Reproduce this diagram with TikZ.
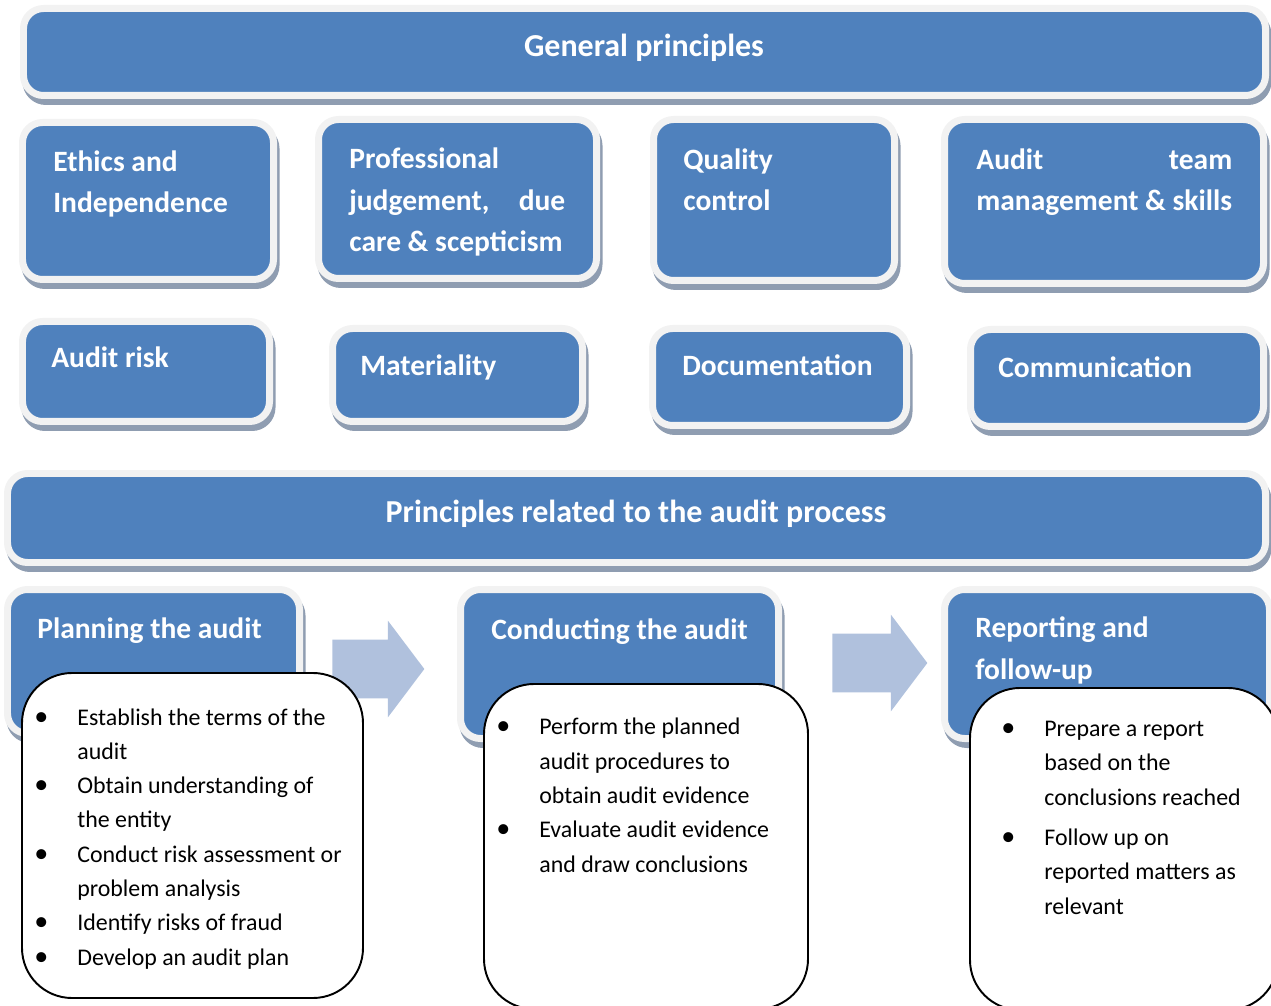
\documentclass[tikz,border=0pt]{standalone}
\usepackage{fontspec}
\setmainfont{Carlito}
\usetikzlibrary{fit,shapes.arrows}

\definecolor{boxblue}{HTML}{4F81BD}
\definecolor{rimgray}{HTML}{F2F2F2}
\definecolor{shadowgray}{HTML}{8F9DB1}
\definecolor{arrowblue}{HTML}{B0C1DD}

\newcommand{\bul}{\llap{{\fontsize{16}{19.5}\selectfont\textbullet}\hspace{0.58cm}}}

\tikzset{
  bluebox/.style={fill=boxblue, draw=rimgray, line width=0.14cm, rounded corners=0.4cm, inner sep=0.07cm,
    preaction={draw=shadowgray, fill=shadowgray, transform canvas={shift={(0.05cm,-0.12cm)}}}},
  headtxt/.style={text=white, font=\fontsize{16.8}{23.8}\selectfont\bfseries, align=left, inner sep=0pt},
  titletxt/.style={headtxt, font=\fontsize{18.2}{23.8}\selectfont\bfseries},
  listbox/.style={draw=black, line width=1.1pt, fill=white, rounded corners=1cm, inner sep=0pt},
  listtxt/.style={text=black, font=\fontsize{13.6}{19.5}\selectfont, align=left, inner sep=0pt},
  flowarrow/.style={single arrow, fill=arrowblue, draw=none, inner xsep=0pt, inner ysep=0.58cm,
    single arrow head extend=0.38cm, single arrow tip angle=106, anchor=tail}
}

\begin{document}
\begin{tikzpicture}[x=0.02cm, y=-0.02cm]
  \useasboundingbox (0,0) rectangle (1271,1006);

  \node[bluebox, fit={(27,12) (1262,92)}] (gen) {};
  \node[bluebox, fit={(26,126) (270,276)}] (ethics) {};
  \node[bluebox, fit={(322,123) (593,275)}] (prof) {};
  \node[bluebox, fit={(657,123) (891,277)}] (qual) {};
  \node[bluebox, fit={(948,123) (1260,280)}] (team) {};
  \node[bluebox, fit={(26,325) (266,418)}] (risk) {};
  \node[bluebox, fit={(336,332) (579,418)}] (mat) {};
  \node[bluebox, fit={(656,332) (903,422)}] (doc) {};
  \node[bluebox, fit={(974,333) (1260,423)}] (comm) {};
  \node[bluebox, fit={(11,477) (1262,559)}] (proc) {};
  \node[bluebox, fit={(11,593) (296,730)}] (plan) {};
  \node[bluebox, fit={(464,593) (775,735)}] (cond) {};
  \node[bluebox, fit={(948,593) (1266,735)}] (rep) {};

  \node[flowarrow, minimum height=1.84cm] (arrA) at (332,669) {};
  \node[flowarrow, minimum height=1.9cm] (arrB) at (832,663) {};

  \node[listbox, fit={(22,673) (363,998)}] (planbox) {};
  \node[listbox, fit={(484,684) (808,1009)}] (condbox) {};
  \node[listbox, fit={(970,688) (1278,1010)}] (repbox) {};

  \node[titletxt, anchor=base] (genT) at (644,57) {General principles};
  \node[headtxt, anchor=base west] (ethicsT) at (53,213) {Ethics and\\Independence};
  \node[headtxt, anchor=base west] (profT) at (349,252) {Professional\\\makebox[4.32cm][s]{judgement,\ due}\\care \& scepticism};
  \node[headtxt, anchor=base west] (qualT) at (683,211) {Quality\\control};
  \node[headtxt, anchor=base west] (teamT) at (976,211) {\makebox[5.12cm][s]{Audit team}\\management \& skills};
  \node[headtxt, anchor=base west] (riskT) at (51,368) {Audit risk};
  \node[headtxt, anchor=base west] (matT) at (360,376) {Materiality};
  \node[headtxt, anchor=base west] (docT) at (682,376) {Documentation};
  \node[headtxt, anchor=base west] (commT) at (998,378) {Communication};
  \node[titletxt, anchor=base] (procT) at (636,522) {Principles related to the audit process};
  \node[headtxt, anchor=base west] (planT) at (37,638) {Planning the audit};
  \node[headtxt, anchor=base west] (condT) at (491,639) {Conducting the audit};
  \node[headtxt, anchor=base west] (repT) at (975,679) {Reporting and\\follow-up};

  \node[listtxt, anchor=base west] (planL) at (77,965) {\bul Establish the terms of the\\audit\\\bul Obtain understanding of\\the entity\\\bul Conduct risk assessment or\\problem analysis\\\bul Identify risks of fraud\\\bul Develop an audit plan};
  \node[listtxt, anchor=base west] (condL) at (539,872) {\bul Perform the planned\\audit procedures to\\obtain audit evidence\\\bul Evaluate audit evidence\\and draw conclusions};
  \node[listtxt, anchor=base west] (repL) at (1044,914) {\bul Prepare a report\\based on the\\conclusions reached\\[0.12cm]\bul Follow up on\\reported matters as\\relevant};
\end{tikzpicture}
\end{document}
